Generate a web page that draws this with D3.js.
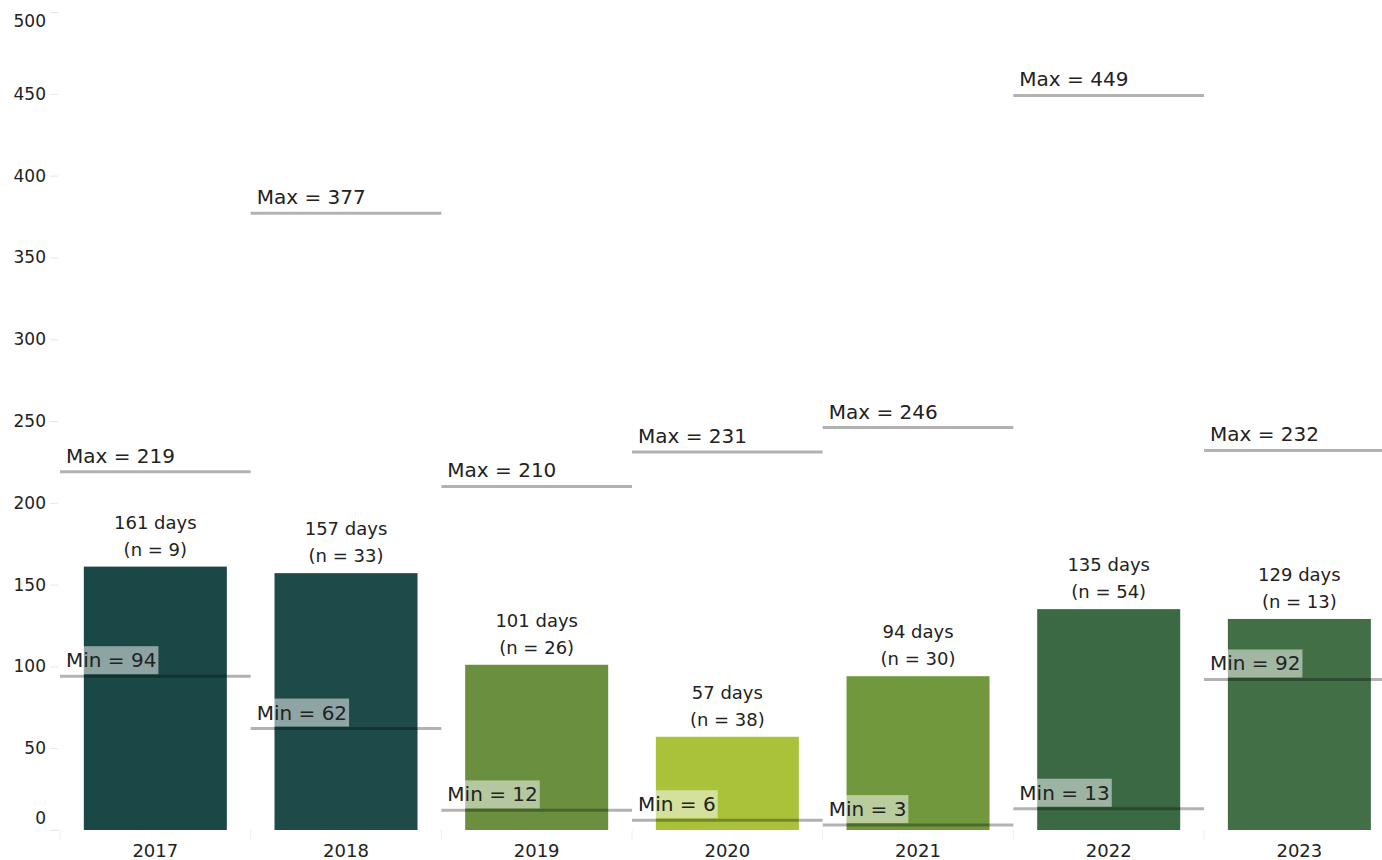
<!DOCTYPE html>
<html>
<head>
<meta charset="utf-8">
<script src="https://cdn.jsdelivr.net/npm/d3@7"></script>
<style>
  body { margin: 0; background: #fff; }
  svg text { font-family: "DejaVu Sans", sans-serif; fill: #222; }
</style>
</head>
<body>
<svg id="svg" width="1382" height="860"></svg>
<script>
// days per year, with counts and the range
var years = ['2017', '2018', '2019', '2020', '2021', '2022', '2023']
var avgDays = [161, 157, 101, 57, 94, 135, 129]
var counts = [9, 33, 26, 38, 30, 54, 13]
var maxDays = [219, 377, 210, 231, 246, 449, 232]
var minDays = [94, 62, 12, 6, 3, 13, 92]
var barColors = ['#1a4847', '#1e4b4a', '#6a8f3f', '#a9c23a', '#72983d', '#3b6944', '#426f45']
var yTicks = [0, 50, 100, 150, 200, 250, 300, 350, 400, 450, 500]

var svg = d3.select('#svg')

var x = d3.scaleBand()
    .domain(years)
    .range([60, 1394.7])
    .paddingInner(0.25)
    .paddingOuter(0.125)

var y = d3.scaleLinear()
    .domain([0, 500])
    .range([830, 12])

var step = x.step()
var pad = (step - x.bandwidth()) / 2

// y axis: light ticks, labels to the left
var yAxis = svg.append('g')
    .attr('transform', 'translate(58,0)')
    .call(d3.axisLeft(y).tickValues(yTicks).tickSize(8).tickPadding(4))

yAxis.select('.domain').remove()
yAxis.selectAll('.tick line').attr('stroke', '#e6e6e6')
yAxis.selectAll('.tick text')
    .style('font-size', '17px')
    .style('font-family', '"DejaVu Sans", sans-serif')
    .attr('fill', '#222')
    .attr('dy', function(d) {
        // top and bottom labels are nudged to stay inside the frame
        if (d == 0) return '-0.4em'
        if (d == 500) return '0.85em'
        return '0.32em'
    })

// x axis: band separators and year labels
var xAxis = svg.append('g')
    .attr('transform', 'translate(0,830)')

xAxis.append('line')
    .attr('x1', 50).attr('x2', 60)
    .attr('stroke', '#eeeeee')

xAxis.selectAll('.sep')
    .data(d3.range(years.length + 1))
    .enter().append('line')
    .attr('class', 'sep')
    .attr('x1', function(i) { return 60 + i * step })
    .attr('x2', function(i) { return 60 + i * step })
    .attr('y1', 0).attr('y2', 10)
    .attr('stroke', '#eeeeee')

xAxis.selectAll('.year')
    .data(years)
    .enter().append('text')
    .attr('x', function(d) { return x(d) + x.bandwidth() / 2 })
    .attr('y', 27)
    .attr('text-anchor', 'middle')
    .style('font-size', '18px')
    .text(function(d) { return d })

// bars
svg.selectAll('.bar')
    .data(years)
    .enter().append('rect')
    .attr('class', 'bar')
    .attr('x', function(d) { return x(d) })
    .attr('width', x.bandwidth())
    .attr('y', function(d, i) { return y(avgDays[i]) })
    .attr('height', function(d, i) { return y(0) - y(avgDays[i]) })
    .attr('fill', function(d, i) { return barColors[i] })

// bar labels
var barLabels = svg.selectAll('.barlabel')
    .data(years)
    .enter().append('text')
    .attr('class', 'barlabel')
    .attr('text-anchor', 'middle')
    .style('font-size', '18px')

barLabels.append('tspan')
    .attr('x', function(d) { return x(d) + x.bandwidth() / 2 })
    .attr('y', function(d, i) { return y(avgDays[i]) - 38 })
    .text(function(d, i) { return avgDays[i] + ' days' })

barLabels.append('tspan')
    .attr('x', function(d) { return x(d) + x.bandwidth() / 2 })
    .attr('y', function(d, i) { return y(avgDays[i]) - 11 })
    .text(function(d, i) { return '(n = ' + counts[i] + ')' })

// reference lines for max and min, each across its whole band
function refLine(values, name) {

    var g = svg.selectAll('.ref-' + name)
        .data(years)
        .enter().append('g')
        .attr('class', 'ref-' + name)
        .attr('transform', function(d, i) {
            return 'translate(' + (x(d) - pad) + ',' + y(values[i]) + ')'
        })

    g.append('line')
        .attr('x1', 0).attr('x2', step)
        .attr('stroke', 'rgba(0,0,0,0.3)')
        .attr('stroke-width', 3)

    g.append('rect')
        .attr('x', 2).attr('y', -30)
        .attr('height', 28)
        .attr('fill', 'rgba(255,255,255,0.5)')

    g.append('text')
        .attr('x', 6).attr('y', -9)
        .style('font-size', '20px')
        .text(function(d, i) { return name + ' = ' + values[i] })

    g.each(function() {
        var t = d3.select(this).select('text').node()
        d3.select(this).select('rect').attr('width', t.getComputedTextLength() + 6)
    })
}

refLine(maxDays, 'Max')
refLine(minDays, 'Min')
</script>
</body>
</html>
